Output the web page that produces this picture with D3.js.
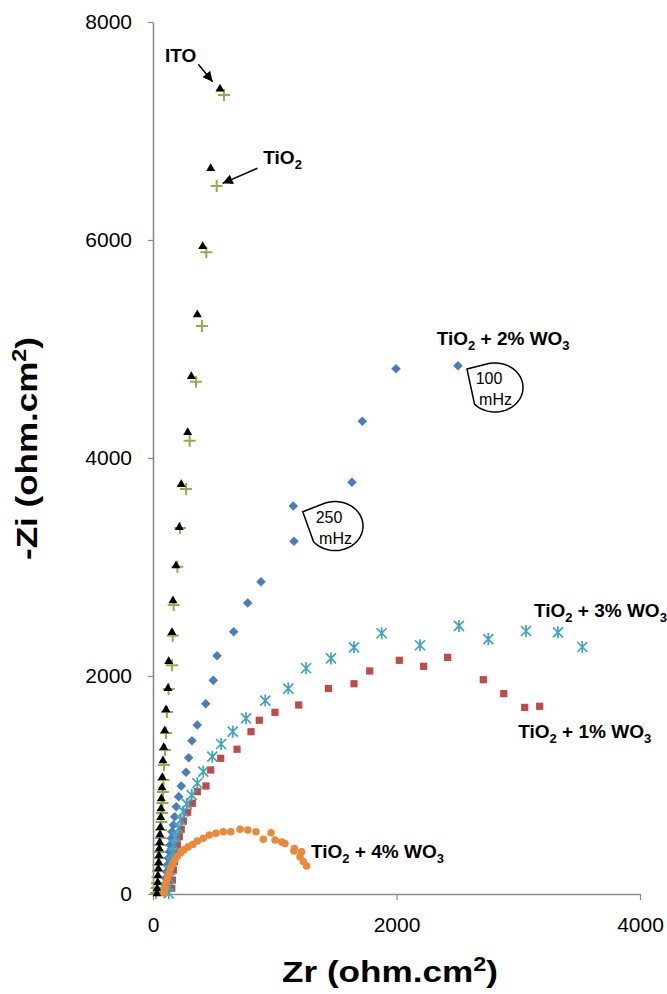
<!DOCTYPE html>
<html>
<head>
<meta charset="utf-8">
<script src="https://cdn.jsdelivr.net/npm/d3@7"></script>
<style>
  html, body { margin: 0; padding: 0; background: #fff; }
  svg { display: block; }
</style>
</head>
<body>
<svg id="chart" width="667" height="994"></svg>
<script>
// ---------- data (Zr, -Zi) in ohm.cm2 ----------
const xTicks = [0, 2000, 4000];
const yTicks = [0, 2000, 4000, 6000, 8000];

const itoPts = [[33,9],[35,55],[39,113],[41,174],[44,239],[47,296],[49,358],[52,422],[55,480],[57,550],[60,617],[63,709],[66,789],[68,881],[74,982],[76,1076],[82,1229],[88,1351],[96,1505],[107,1697],[123,1893],[129,2140],[156,2406],[164,2697],[189,3018],[216,3370],[232,3764],[285,4241],[315,4755],[364,5321],[408,5948],[474,6663],[550,7392]];

const tio2Pts = [[25,9],[29,55],[33,101],[37,156],[41,211],[45,266],[49,330],[53,385],[57,450],[62,514],[66,587],[70,661],[74,743],[78,835],[82,936],[86,1046],[90,1183],[99,1321],[107,1477],[115,1670],[129,1881],[156,2098],[162,2370],[170,2651],[200,3003],[222,3358],[271,3716],[301,4159],[353,4700],[402,5211],[438,5887],[523,6495],[583,7330]];

const wo1Pts = [[154,52],[159,128],[167,220],[175,296],[186,373],[200,450],[216,526],[232,594],[249,670],[285,750],[323,832],[364,939],[435,991],[474,1138],[556,1245],[690,1328],[805,1489],[873,1594],[1002,1667],[1197,1734],[1441,1885],[1651,1929],[1780,2046],[2023,2144],[2223,2089],[2420,2171],[2713,1966],[2881,1838],[3053,1712],[3176,1722]];

const wo2Pts = [[90,21],[99,83],[104,144],[112,205],[117,266],[126,328],[134,388],[140,450],[150,511],[156,572],[167,633],[178,709],[191,801],[211,893],[232,991],[271,1117],[293,1250],[320,1406],[364,1550],[433,1746],[495,1960],[526,2186],[663,2406],[778,2670],[887,2865],[1158,3236],[1152,3560],[1634,3777],[1719,4337],[1996,4819],[2505,4847]];

const wo3Pts = [[129,6],[131,67],[134,144],[140,220],[148,296],[159,373],[172,450],[189,526],[208,603],[228,679],[249,755],[277,826],[318,908],[364,1016],[413,1122],[487,1260],[559,1376],[655,1489],[764,1612],[922,1775],[1111,1885],[1257,2071],[1462,2161],[1651,2263],[1878,2392],[2193,2282],[2513,2459],[2754,2339],[3064,2413],[3326,2401],[3526,2266]];

const wo4Pts = [[90,9],[93,28],[101,67],[109,110],[121,153],[131,195],[145,236],[162,275],[181,312],[200,349],[228,379],[257,409],[290,434],[326,455],[364,486],[413,511],[462,541],[517,557],[577,572],[638,572],[715,594],[778,587],[846,572],[906,502],[969,562],[1002,495],[1057,477],[1084,464],[1158,394],[1161,418],[1221,388],[1207,342],[1234,299],[1262,257]];

const seriesLabels = [
  {pre: "TiO", sub1: "2", mid: " + 2% WO", sub2: "3", at: [2330, 5037]},
  {pre: "TiO", sub1: "2", mid: " + 3% WO", sub2: "3", at: [3129, 2544]},
  {pre: "TiO", sub1: "2", mid: " + 1% WO", sub2: "3", at: [3000, 1434]},
  {pre: "TiO", sub1: "2", mid: " + 4% WO", sub2: "3", at: [1298, 333]}
];
const arrowLabels = [
  {pre: "ITO", sub1: "", at: [98, 7633], from: [372, 7612], to: [490, 7452]},
  {pre: "TiO", sub1: "2", at: [906, 6697], from: [857, 6658], to: [572, 6520]}
];
const callouts = [
  {lines: ["100", "mHz"], tip: [2579, 4817], center: [2809, 4647], t1: -107, t2: 137},
  {lines: ["250", "mHz"], tip: [1230, 3507], center: [1495, 3376], t1: -112, t2: 140}
];

// ---------- setup ----------
const svg = d3.select("#chart");
const FONT = "'Liberation Sans', Arial, sans-serif";
const x = d3.scaleLinear().domain([0, 4000]).range([153, 640]);
const y = d3.scaleLinear().domain([0, 8000]).range([894, 22]);

// axes
const axisColor = "#8a8a8a";
const gy = svg.append("g").attr("transform", `translate(${x(0)},0)`)
  .call(d3.axisLeft(y).tickValues(yTicks).tickSize(5).tickSizeOuter(0).tickPadding(16).tickFormat(d3.format("d")));
const gx = svg.append("g").attr("transform", `translate(0,${y(0)})`)
  .call(d3.axisBottom(x).tickValues(xTicks).tickSize(6).tickSizeOuter(0).tickPadding(17).tickFormat(d3.format("d")));
[gx, gy].forEach(g => {
  g.select(".domain").attr("stroke", axisColor).attr("stroke-width", 1.6);
  g.selectAll(".tick line").attr("stroke", axisColor).attr("stroke-width", 1.2);
  g.selectAll(".tick text").attr("fill", "#000").style("font-family", FONT).style("font-size", "21px");
});

// axis titles
function axisTitle(sel, label, len) {
  sel.style("font-family", FONT).style("font-weight", "bold").style("font-size", "30px")
    .attr("textLength", len).attr("lengthAdjust", "spacingAndGlyphs");
  sel.append("tspan").text(label);
  sel.append("tspan").attr("dy", -11).style("font-size", "20px").text("2");
  sel.append("tspan").attr("dy", 11).text(")");
}
const tx = svg.append("text").attr("x", 282).attr("y", 982);
axisTitle(tx, "Zr (ohm.cm", 216);
const ty = svg.append("text").attr("transform", "translate(37,560) rotate(-90)");
axisTitle(ty, "-Zi (ohm.cm", 223);

// ---------- markers ----------
const plot = svg.append("g");
function pos(d) { return `translate(${x(d[0])},${y(d[1])})`; }

plot.append("g").selectAll("path").data(tio2Pts).join("path")
  .attr("transform", pos).attr("d", "M-6,0H6M0,-6V6")
  .attr("stroke", "#8DB04E").attr("stroke-width", 2).attr("fill", "none");

plot.append("g").selectAll("path").data(itoPts).join("path")
  .attr("transform", pos).attr("d", "M0,-4.5L4.5,3.3L-4.5,3.3Z").attr("fill", "#000");

plot.append("g").selectAll("path").data(wo1Pts).join("path")
  .attr("transform", pos).attr("d", d3.symbol(d3.symbolSquare, 52)).attr("fill", "#BE4B48");

plot.append("g").selectAll("path").data(wo2Pts).join("path")
  .attr("transform", pos).attr("d", "M0,-4.8L4.8,0L0,4.8L-4.8,0Z").attr("fill", "#4A7EBB");

plot.append("g").selectAll("path").data(wo3Pts).join("path")
  .attr("transform", pos).attr("d", "M-5,-5L5,5M-5,5L5,-5M0,-6V6")
  .attr("stroke", "#3FA3BE").attr("stroke-width", 1.7).attr("fill", "none");

plot.append("g").selectAll("path").data(wo4Pts).join("path")
  .attr("transform", pos).attr("d", d3.symbol(d3.symbolCircle, 44)).attr("fill", "#EB8839");

// ---------- annotations ----------
function addLabel(l) {
  const t = svg.append("text").attr("x", x(l.at[0])).attr("y", y(l.at[1]))
    .style("font-family", FONT).style("font-weight", "bold").style("font-size", "19px").attr("fill", "#000");
  t.append("tspan").text(l.pre);
  if (l.sub1) t.append("tspan").attr("dy", 5).style("font-size", "13px").text(l.sub1);
  if (l.mid) {
    t.append("tspan").attr("dy", l.sub1 ? -5 : 0).text(l.mid);
    t.append("tspan").attr("dy", 5).style("font-size", "13px").text(l.sub2);
  }
}
seriesLabels.forEach(addLabel);

svg.append("defs").append("marker").attr("id", "ah")
  .attr("viewBox", "0 0 10 10").attr("refX", 10).attr("refY", 5)
  .attr("markerWidth", 12).attr("markerHeight", 10).attr("markerUnits", "userSpaceOnUse")
  .attr("orient", "auto")
  .append("path").attr("d", "M0,0L10,5L0,10Z").attr("fill", "#000");

arrowLabels.forEach(l => {
  addLabel(l);
  svg.append("line")
    .attr("x1", x(l.from[0])).attr("y1", y(l.from[1]))
    .attr("x2", x(l.to[0])).attr("y2", y(l.to[1]))
    .attr("stroke", "#000").attr("stroke-width", 1.5).attr("marker-end", "url(#ah)");
});

callouts.forEach(c => {
  const cx = x(c.center[0]), cy = y(c.center[1]);
  const rx = 28, ry = 24.5;
  const pts = [[x(c.tip[0]), y(c.tip[1])]];
  for (let a = c.t1; a <= c.t2; a += 4) {
    const r = a * Math.PI / 180;
    pts.push([cx + rx * Math.cos(r), cy + ry * Math.sin(r)]);
  }
  const r2 = c.t2 * Math.PI / 180;
  pts.push([cx + rx * Math.cos(r2), cy + ry * Math.sin(r2)]);
  svg.append("path").attr("d", d3.line()(pts) + "Z")
    .attr("fill", "#fff").attr("stroke", "#000").attr("stroke-width", 1.5);
  const t = svg.append("text").style("font-family", FONT).style("font-size", "16px").attr("fill", "#000");
  t.append("tspan").attr("x", cx - 6).attr("y", cy - 3).attr("text-anchor", "middle").text(c.lines[0]);
  t.append("tspan").attr("x", cx + 0.5).attr("y", cy + 18).attr("text-anchor", "middle").text(c.lines[1]);
});
</script>
</body>
</html>
